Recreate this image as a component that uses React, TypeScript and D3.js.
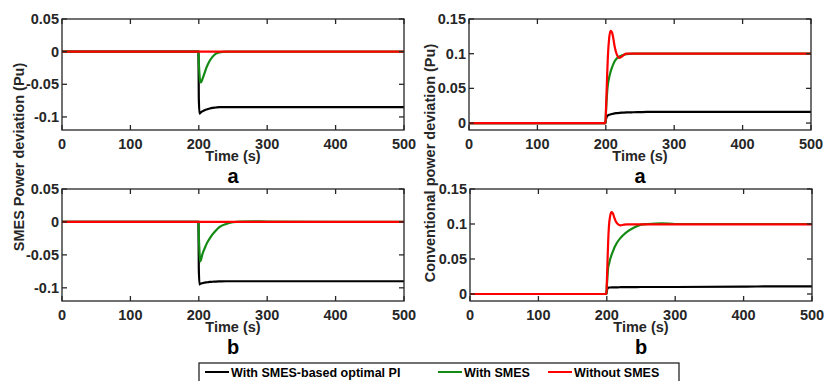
import React, { useEffect, useRef } from "react";
import * as d3 from "d3";

// Time base shared by all series (s)
const time = [0, 199.5, 200, 201, 202, 203, 205, 207, 209, 211, 213, 216, 220, 225, 230, 240, 250, 260, 280, 300, 400, 450, 500];

// (a) SMES power deviation
const smesOptimalA = [0, 0, -0.07, -0.095, -0.094, -0.093, -0.0915, -0.0905, -0.0895, -0.0885, -0.088, -0.087, -0.086, -0.0855, -0.085, -0.085, -0.085, -0.085, -0.085, -0.085, -0.085, -0.085, -0.085];
const smesWithA = [0, 0, -0.015, -0.035, -0.046, -0.047, -0.043, -0.037, -0.031, -0.025, -0.02, -0.014, -0.008, -0.003, -0.001, 0, 0, 0, 0, 0, 0, 0, 0];
const smesWithoutA = [0, 0, 0, 0, 0, 0, 0, 0, 0, 0, 0, 0, 0, 0, 0, 0, 0, 0, 0, 0, 0, 0, 0];

// (a) conventional power deviation
const convOptimalA = [0, 0, 0.004, 0.008, 0.01, 0.011, 0.012, 0.0125, 0.013, 0.0135, 0.014, 0.0143, 0.0147, 0.015, 0.0153, 0.0156, 0.0158, 0.016, 0.016, 0.016, 0.016, 0.016, 0.016];
const convWithA = [0, 0, 0.01, 0.03, 0.045, 0.055, 0.066, 0.074, 0.08, 0.085, 0.089, 0.093, 0.096, 0.098, 0.0995, 0.1, 0.1, 0.1, 0.1, 0.1, 0.1, 0.1, 0.1];
const convWithoutA = [0, 0, 0.012, 0.04, 0.07, 0.095, 0.123, 0.133, 0.131, 0.122, 0.11, 0.099, 0.094, 0.097, 0.1, 0.1, 0.1, 0.1, 0.1, 0.1, 0.1, 0.1, 0.1];

// (b) SMES power deviation
const smesOptimalB = [0, 0, -0.07, -0.095, -0.094, -0.0935, -0.093, -0.0925, -0.092, -0.0918, -0.0915, -0.091, -0.0908, -0.0905, -0.0903, -0.09, -0.09, -0.09, -0.09, -0.09, -0.09, -0.09, -0.09];
const smesWithB = [0, 0, -0.02, -0.045, -0.06, -0.058, -0.05, -0.044, -0.039, -0.034, -0.03, -0.025, -0.019, -0.013, -0.008, -0.003, -0.0005, 0.0005, 0.001, 0.0005, 0, 0, 0];
const smesWithoutB = [0, 0, 0, 0, 0, 0, 0, 0, 0, 0, 0, 0, 0, 0, 0, 0, 0, 0, 0, 0, 0, 0, 0];

// (b) conventional power deviation
const convOptimalB = [0, 0, 0.004, 0.008, 0.009, 0.0092, 0.0093, 0.0094, 0.0095, 0.0095, 0.0096, 0.0096, 0.0097, 0.0098, 0.0098, 0.0099, 0.01, 0.01, 0.01, 0.01, 0.0105, 0.011, 0.011];
const convWithB = [0, 0, 0.01, 0.025, 0.038, 0.042, 0.05, 0.056, 0.061, 0.066, 0.07, 0.075, 0.08, 0.085, 0.089, 0.095, 0.099, 0.1, 0.101, 0.1, 0.1, 0.1, 0.1];
const convWithoutB = [0, 0, 0.015, 0.045, 0.075, 0.095, 0.112, 0.117, 0.115, 0.109, 0.104, 0.1, 0.098, 0.099, 0.0995, 0.0995, 0.0995, 0.0995, 0.0995, 0.0995, 0.0995, 0.0995, 0.0995];

const xTicks = [0, 100, 200, 300, 400, 500];
const smesTicks = [0.05, 0, -0.05, -0.1];
const convTicks = [0.15, 0.1, 0.05, 0];

const legendLabels = ["With SMES-based optimal PI", "With SMES", "Without SMES"];
const colors = ["#000000", "#138a13", "#ff0000"];

const FONT = "'Liberation Sans', Arial, sans-serif";

const App = () => {
  const ref = useRef<SVGSVGElement>(null);

  useEffect(() => {
    const svg = d3.select(ref.current);
    svg.selectAll("*").remove();

    const panels = [
      { x: [62, 404], y: [19, 130], dom: [-0.12, 0.05], ticks: smesTicks, series: [smesOptimalA, smesWithA, smesWithoutA], tag: "a" },
      { x: [469, 811], y: [19, 130], dom: [-0.01, 0.15], ticks: convTicks, series: [convOptimalA, convWithA, convWithoutA], tag: "a" },
      { x: [62, 404], y: [189, 301], dom: [-0.12, 0.05], ticks: smesTicks, series: [smesOptimalB, smesWithB, smesWithoutB], tag: "b" },
      { x: [470, 812], y: [189, 301], dom: [-0.01, 0.15], ticks: convTicks, series: [convOptimalB, convWithB, convWithoutB], tag: "b" },
    ];

    panels.forEach((p) => {
      const xScale = d3.scaleLinear().domain([0, 500]).range(p.x);
      const yScale = d3.scaleLinear().domain(p.dom).range([p.y[1], p.y[0]]);
      const g = svg.append("g");

      // Lines
      const line = d3
        .line<number>()
        .x((_, i) => xScale(time[i]))
        .y((d) => yScale(d))
        .curve(d3.curveMonotoneX);

      p.series.forEach((s, i) => {
        g.append("path")
          .datum(s)
          .attr("fill", "none")
          .attr("stroke", colors[i])
          .attr("stroke-width", 2.2)
          .attr("d", line);
      });

      // Box
      g.append("rect")
        .attr("x", p.x[0])
        .attr("y", p.y[0])
        .attr("width", p.x[1] - p.x[0])
        .attr("height", p.y[1] - p.y[0])
        .attr("fill", "none")
        .attr("stroke", "#262626")
        .attr("stroke-width", 1.3);

      // Inward ticks on all sides
      xTicks.forEach((t) => {
        const xx = xScale(t);
        g.append("line").attr("x1", xx).attr("x2", xx).attr("y1", p.y[1]).attr("y2", p.y[1] - 5).attr("stroke", "#262626").attr("stroke-width", 1.3);
        g.append("line").attr("x1", xx).attr("x2", xx).attr("y1", p.y[0]).attr("y2", p.y[0] + 5).attr("stroke", "#262626").attr("stroke-width", 1.3);
        g.append("text")
          .attr("x", xx)
          .attr("y", p.y[1] + 19)
          .attr("text-anchor", "middle")
          .attr("font-size", 14.5)
          .attr("font-weight", "bold")
          .attr("fill", "#262626")
          .text(String(t));
      });
      p.ticks.forEach((t) => {
        const yy = yScale(t);
        g.append("line").attr("x1", p.x[0]).attr("x2", p.x[0] + 5).attr("y1", yy).attr("y2", yy).attr("stroke", "#262626").attr("stroke-width", 1.3);
        g.append("line").attr("x1", p.x[1]).attr("x2", p.x[1] - 5).attr("y1", yy).attr("y2", yy).attr("stroke", "#262626").attr("stroke-width", 1.3);
        g.append("text")
          .attr("x", p.x[0] - 3)
          .attr("y", yy)
          .attr("dy", "0.35em")
          .attr("text-anchor", "end")
          .attr("font-size", 14.5)
          .attr("font-weight", "bold")
          .attr("fill", "#262626")
          .text(String(t));
      });

      const cx = (p.x[0] + p.x[1]) / 2;
      g.append("text")
        .attr("x", cx)
        .attr("y", p.y[1] + 31)
        .attr("text-anchor", "middle")
        .attr("font-size", 14.5)
        .attr("font-weight", "bold")
        .attr("fill", "#262626")
        .text("Time (s)");
      g.append("text")
        .attr("x", cx)
        .attr("y", p.y[1] + 53)
        .attr("text-anchor", "middle")
        .attr("font-size", 20)
        .attr("font-weight", "bold")
        .attr("fill", "#000")
        .text(p.tag);
    });

    // Y axis titles
    svg.append("text")
      .attr("transform", "translate(24,157) rotate(-90)")
      .attr("text-anchor", "middle")
      .attr("font-size", 14.5)
      .attr("font-weight", "bold")
      .attr("fill", "#262626")
      .text("SMES Power deviation (Pu)");
    svg.append("text")
      .attr("transform", "translate(435,163) rotate(-90)")
      .attr("text-anchor", "middle")
      .attr("font-size", 14.5)
      .attr("font-weight", "bold")
      .attr("fill", "#262626")
      .text("Conventional power deviation (Pu)");

    // Legend
    const lg = svg.append("g");
    lg.append("rect")
      .attr("x", 199)
      .attr("y", 363)
      .attr("width", 480)
      .attr("height", 30)
      .attr("fill", "#fff")
      .attr("stroke", "#262626")
      .attr("stroke-width", 1.3);
    const legendX = [205, 438, 548];
    legendLabels.forEach((lab, i) => {
      lg.append("line")
        .attr("x1", legendX[i])
        .attr("x2", legendX[i] + 24)
        .attr("y1", 372)
        .attr("y2", 372)
        .attr("stroke", colors[i])
        .attr("stroke-width", 2);
      lg.append("text")
        .attr("x", legendX[i] + 26)
        .attr("y", 377)
        .attr("font-size", 12.5)
        .attr("font-weight", "bold")
        .attr("fill", "#000")
        .text(lab);
    });
  }, []);

  return (
    <svg
      ref={ref}
      width={824}
      height={381}
      style={{ position: "absolute", left: 0, top: 0, background: "#fff", fontFamily: FONT }}
    ></svg>
  );
};

export default App;
